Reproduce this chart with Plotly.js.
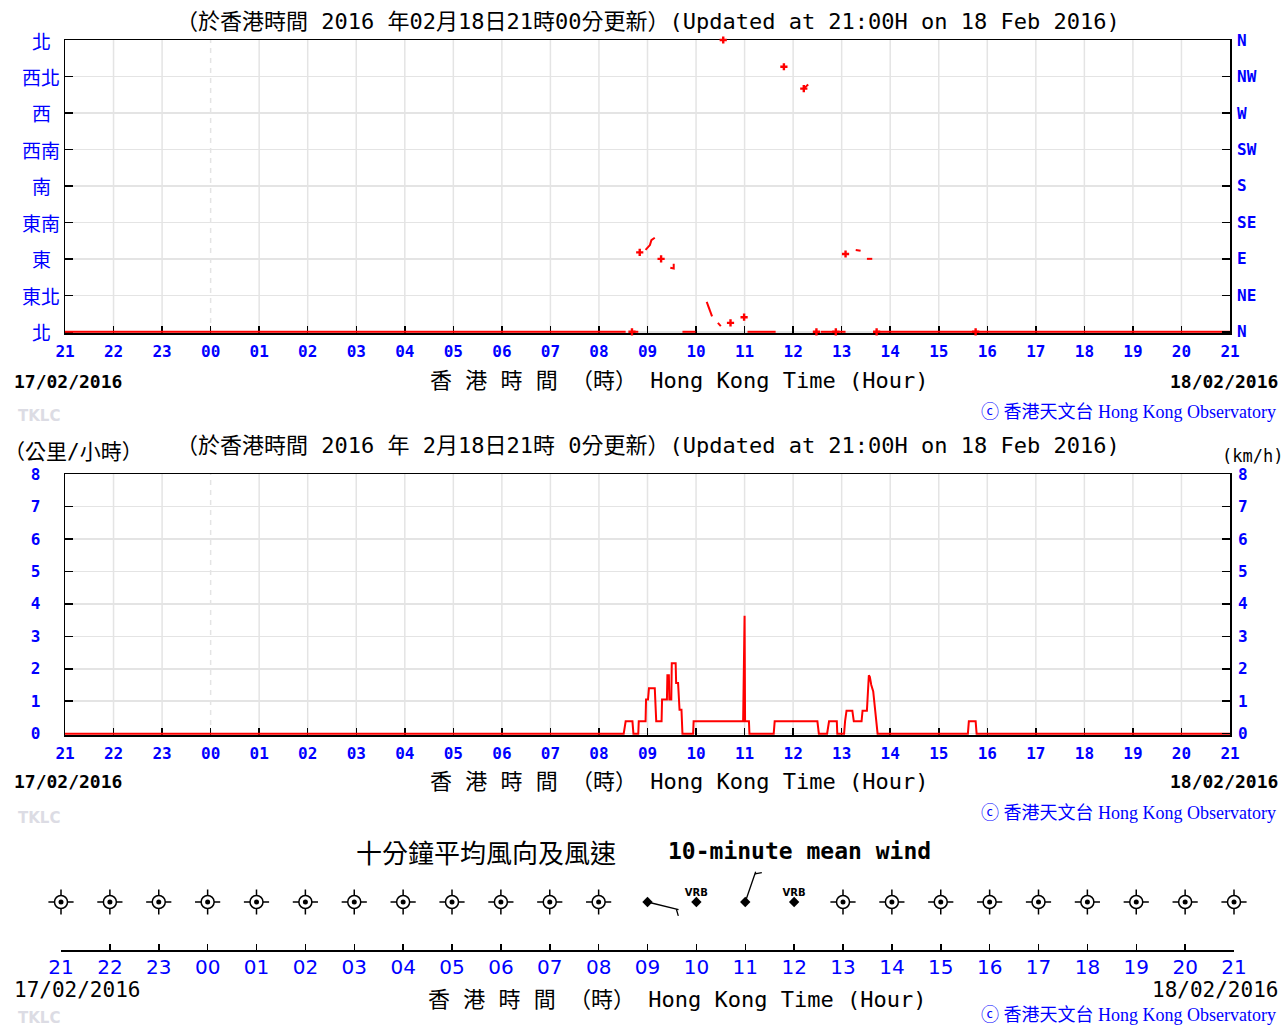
<!DOCTYPE html>
<html><head><meta charset="utf-8">
<script src="https://cdn.plot.ly/plotly-3.0.1.min.js"></script>
<style>body{margin:0;background:#fff}#chart{width:1287px;height:1026px}</style>
</head><body><div id="chart"></div>
<script>
// ---------- data (hours since 21:00 on 17/02/2016) ----------
const hourLabels = ['21','22','23','00','01','02','03','04','05','06','07','08','09','10','11','12','13','14','15','16','17','18','19','20','21'];
const hourVals = hourLabels.map((_, i) => i);
const dirTickVals = [0, 45, 90, 135, 180, 225, 270, 315, 360];
const dirTicksZh = ['北', '東北', '東', '東南', '南', '西南', '西', '西北', '北'];
const dirTicksEn = ['N', 'NE', 'E', 'SE', 'S', 'SW', 'W', 'NW', 'N'];
const speedTickVals = [0, 1, 2, 3, 4, 5, 6, 7, 8];

const dirLineHours = [0, 11.55, null, 11.71, 11.81, null, 11.96, 12.05, 12.08, 12.15, null, 12.47, 12.54, 12.54, null, 12.72, 12.99, null, 13.22, 13.33, null, 13.45, 13.51, null, 14.06, 14.64, null, 15.22, 15.31, null, 15.57, 15.84, null, 15.94, 16.08, null, 16.29, 16.39, null, 16.52, 16.63, null, 16.75, 24];
const dirLineDeg   = [0, 0, null, 0, 0, null, 101, 107, 113, 116, null, 79, 78, 84, null, 0, 0, null, 37, 19, null, 11, 7, null, 0, 0, null, 300, 305, null, 0, 0, null, 0, 0, null, 101, 100, null, 90, 90, null, 0, 0];
const dirPointHours = [11.68, 11.84, 12.28, 13.56, 13.71, 13.99, 14.81, 15.22, 15.48, 15.88, 16.08, 16.72, 18.76];
const dirPointDeg   = [0, 98, 90, 360, 11, 18, 327, 300, 0, 0, 96, 0, 0];

const speedHours = [0, 11.51, 11.55, 11.69, 11.71, 11.81, 11.82, 11.96, 11.97, 12.01, 12.03, 12.15, 12.16, 12.18, 12.29, 12.30, 12.40, 12.41, 12.44, 12.45, 12.49, 12.50, 12.58, 12.59, 12.63, 12.64, 12.66, 12.70, 12.72, 12.94, 12.95, 13.97, 13.98, 13.99, 14.00, 14.01, 14.09, 14.10, 14.60, 14.62, 15.50, 15.53, 15.70, 15.74, 15.90, 15.91, 16.05, 16.07, 16.10, 16.22, 16.25, 16.41, 16.43, 16.52, 16.53, 16.56, 16.58, 16.61, 16.65, 16.69, 16.74, 18.60, 18.62, 18.76, 18.78, 24];
const speedKmh   = [0, 0, 0.38, 0.38, 0, 0, 0.38, 0.38, 1.05, 1.05, 1.4, 1.4, 1.05, 0.38, 0.38, 1.05, 1.05, 1.8, 1.8, 1.05, 1.05, 2.17, 2.17, 1.56, 1.56, 1.05, 0.74, 0.74, 0, 0, 0.38, 0.38, 2.0, 2.0, 3.63, 0.38, 0.38, 0, 0, 0.38, 0.38, 0, 0, 0.38, 0.38, 0, 0, 0.38, 0.71, 0.71, 0.38, 0.38, 0.71, 0.71, 1.07, 1.8, 1.75, 1.5, 1.3, 0.8, 0, 0, 0.38, 0.38, 0, 0];

// 10-minute mean wind at each hour: null = calm, 'VRB' = variable, number = direction (deg)
const meanWindDir = [null, null, null, null, null, null, null, null, null, null, null, null, 104, 'VRB', 19, 'VRB', null, null, null, null, null, null, null, null, null];

// ---------- helpers ----------
const W = 1287, H = 1026;
const px = x => x / W;
const py = y => 1 - y / H;
const BLUE = '#0000ff';
const MONO = 'DejaVu Sans Mono, Noto Sans CJK TC, monospace';
const CJK = 'Noto Sans CJK TC, DejaVu Sans';
function ann(text, x, y, font, xanchor) {
  return {text, x: px(x), y: py(y), xref: 'paper', yref: 'paper', xanchor: xanchor || 'center', yanchor: 'middle', showarrow: false, font};
}

const titleFont = {family: MONO, size: 22, color: '#000'};
const xTitleFont = {family: MONO, size: 22, color: '#000'};
const dateBold = {family: MONO, size: 18, color: '#000', weight: 'bold'};
const tklcFont = {family: 'DejaVu Sans', size: 15, color: '#dcdce4', weight: 'bold'};
const hkoFont = {family: 'Liberation Serif, Noto Sans CJK TC', size: 18, color: BLUE};
const tickBold = {family: MONO, size: 16, color: BLUE, weight: 'bold'};

// ---------- traces ----------
const traces = [];
traces.push({x: dirLineHours, y: dirLineDeg, xaxis: 'x', yaxis: 'y', mode: 'lines', connectgaps: false,
  line: {color: '#ff0000', width: 2}, hoverinfo: 'skip', showlegend: false});
traces.push({x: dirPointHours, y: dirPointDeg, xaxis: 'x', yaxis: 'y', mode: 'markers', cliponaxis: false,
  marker: {symbol: 'cross', size: 6, color: '#ff0000'}, hoverinfo: 'skip', showlegend: false});
traces.push({x: [0], y: [null], xaxis: 'x', yaxis: 'y2', mode: 'markers', hoverinfo: 'skip', showlegend: false});
traces.push({x: speedHours, y: speedKmh, xaxis: 'x2', yaxis: 'y3', mode: 'lines',
  line: {color: '#ff0000', width: 2}, hoverinfo: 'skip', showlegend: false});
traces.push({x: [0], y: [null], xaxis: 'x2', yaxis: 'y4', mode: 'markers', hoverinfo: 'skip', showlegend: false});

const STATION_Y = 48;
const calmX = hourVals.filter((h, i) => meanWindDir[i] === null);
const windX = hourVals.filter((h, i) => meanWindDir[i] !== null);
const vrbX = hourVals.filter((h, i) => meanWindDir[i] === 'VRB');
const mk = (xs, marker) => ({x: xs, y: xs.map(() => STATION_Y), xaxis: 'x3', yaxis: 'y5', mode: 'markers',
  cliponaxis: false, marker, hoverinfo: 'skip', showlegend: false});
traces.push(mk(calmX, {symbol: 'cross-thin-open', size: 18, color: '#000', line: {color: '#000', width: 1.5}}));
traces.push(mk(calmX, {symbol: 'circle', size: 13, color: '#fff', line: {color: '#000', width: 1.5}}));
traces.push(mk(calmX, {symbol: 'circle', size: 5, color: '#000', line: {width: 0}}));
traces.push(mk(windX, {symbol: 'diamond', size: 8, color: '#000', line: {width: 0}}));
traces.push({x: vrbX, y: vrbX.map(() => STATION_Y + 9), xaxis: 'x3', yaxis: 'y5', mode: 'text', cliponaxis: false,
  text: vrbX.map(() => 'VRB'), textfont: {family: 'DejaVu Sans', size: 10, color: '#000', weight: 'bold'},
  hoverinfo: 'skip', showlegend: false});

// ---------- shapes ----------
const gridC = '#e4e4e4';
const shapes = [];
['x', 'x2'].forEach((xr, k) => {
  const yr = k === 0 ? 'y' : 'y3';
  hourVals.slice(1, -1).forEach(h => {
    shapes.push({type: 'line', xref: xr, yref: yr + ' domain', x0: h, x1: h, y0: 0, y1: 1, layer: 'below',
      line: {color: gridC, width: 1.5, dash: h === 3 ? '5px,5px' : 'solid'}});
  });
});
// wind barbs (length in pixels, drawn from each station mark)
const BARB = 32, FEATHER = 7;
meanWindDir.forEach((d, i) => {
  if (typeof d !== 'number') return;
  const r = d * Math.PI / 180;
  const sx = Math.sin(r), sy = Math.cos(r);
  const fx = sx * 0.5 + sy * 0.866, fy = -sx * 0.866 + sy * 0.5;
  const base = {type: 'line', xref: 'x3', yref: 'y5', xsizemode: 'pixel', xanchor: i, layer: 'above', line: {color: '#000', width: 1.3}};
  shapes.push(Object.assign({}, base, {x0: 0, y0: STATION_Y, x1: BARB * sx, y1: STATION_Y + BARB * sy}));
  const bx = BARB * 0.93 * sx, by = BARB * 0.93 * sy;
  shapes.push(Object.assign({}, base, {x0: bx, y0: STATION_Y + by, x1: bx + FEATHER * fx, y1: STATION_Y + by + FEATHER * fy}));
});

// ---------- annotations ----------
const annotations = [];
annotations.push(ann('（於香港時間 2016 年02月18日21時00分更新）(Updated at 21:00H on 18 Feb 2016)', 648, 22, titleFont));
dirTickVals.forEach((v, i) => annotations.push({text: dirTicksZh[i], x: px(41), y: v, xref: 'paper', yref: 'y',
  xanchor: 'center', yanchor: 'middle', showarrow: false, font: {family: CJK, size: 19, color: BLUE}}));
annotations.push(ann('17/02/2016', 12, 381, dateBold, 'left'));
annotations.push(ann('18/02/2016', 1280, 381, dateBold, 'right'));
annotations.push(ann('香 港 時 間 （時） Hong Kong Time (Hour)', 679, 380, xTitleFont));
annotations.push(ann('TKLC', 16, 416, tklcFont, 'left'));
annotations.push(ann('ⓒ 香港天文台 Hong Kong Observatory', 1278, 412, hkoFont, 'right'));

annotations.push(ann('（公里/小時）', 2, 452, {family: MONO, size: 21, color: '#000'}, 'left'));
annotations.push(ann('（於香港時間 2016 年 2月18日21時 0分更新）(Updated at 21:00H on 18 Feb 2016)', 648, 445, titleFont));
annotations.push(ann('(km/h)', 1285, 456, {family: MONO, size: 17, color: '#000'}, 'right'));
annotations.push(ann('17/02/2016', 12, 781, dateBold, 'left'));
annotations.push(ann('18/02/2016', 1280, 781, dateBold, 'right'));
annotations.push(ann('香 港 時 間 （時） Hong Kong Time (Hour)', 679, 781, xTitleFont));
annotations.push(ann('TKLC', 16, 818, tklcFont, 'left'));
annotations.push(ann('ⓒ 香港天文台 Hong Kong Observatory', 1278, 813, hkoFont, 'right'));

annotations.push(ann('十分鐘平均風向及風速', 486, 851, {family: CJK, size: 26, color: '#000'}));
annotations.push(ann('10-minute mean wind', 799, 851, {family: MONO, size: 23, color: '#000', weight: 'bold'}));
annotations.push(ann('17/02/2016', 12, 990, {family: MONO, size: 21, color: '#000'}, 'left'));
annotations.push(ann('18/02/2016', 1280, 990, {family: MONO, size: 21, color: '#000'}, 'right'));
annotations.push(ann('香 港 時 間 （時） Hong Kong Time (Hour)', 677, 999, xTitleFont));
annotations.push(ann('TKLC', 16, 1018, tklcFont, 'left'));
annotations.push(ann('ⓒ 香港天文台 Hong Kong Observatory', 1278, 1015, hkoFont, 'right'));

// ---------- axes ----------
const hourAxis = (domain, anchor) => ({domain, anchor, range: [0, 24], tickmode: 'array', tickvals: hourVals, ticktext: hourLabels,
  showgrid: false, zeroline: false, showline: true, mirror: true, linecolor: '#000', linewidth: 1.5,
  ticks: 'inside', ticklen: 7, tickwidth: 1.5, tickcolor: '#000', tickfont: tickBold, ticklabelstandoff: 3, layer: 'below traces', fixedrange: true});

const layout = {
  width: W, height: H, autosize: false, margin: {l: 0, r: 0, t: 0, b: 0},
  paper_bgcolor: '#fff', plot_bgcolor: 'rgba(0,0,0,0)', showlegend: false,
  xaxis: hourAxis([px(65), px(1230)], 'y'),
  yaxis: {domain: [py(333), py(40)], anchor: 'x', range: [-1.5, 360], tickmode: 'array', tickvals: dirTickVals, showticklabels: false,
    showgrid: true, gridcolor: gridC, gridwidth: 1.5, zeroline: false, showline: true, mirror: true, linecolor: '#000', linewidth: 1.5,
    ticks: 'inside', ticklen: 8, tickwidth: 1.5, tickcolor: '#000', layer: 'below traces', fixedrange: true},
  yaxis2: {overlaying: 'y', side: 'right', anchor: 'x', range: [-1.5, 360], tickmode: 'array', tickvals: dirTickVals, ticktext: dirTicksEn,
    showgrid: false, zeroline: false, ticks: 'inside', ticklen: 8, tickwidth: 1.5, tickcolor: '#000', tickfont: tickBold, ticklabelstandoff: 6, fixedrange: true},
  xaxis2: hourAxis([px(65), px(1230)], 'y3'),
  yaxis3: {domain: [py(735), py(474)], anchor: 'x2', range: [-0.04, 8], tickmode: 'array', tickvals: speedTickVals,
    showgrid: true, gridcolor: gridC, gridwidth: 1.5, zeroline: false, showline: true, mirror: true, linecolor: '#000', linewidth: 1.5,
    ticks: 'inside', ticklen: 8, tickwidth: 1.5, tickcolor: '#000', tickfont: tickBold, ticklabelstandoff: 20, layer: 'below traces', fixedrange: true},
  yaxis4: {overlaying: 'y3', side: 'right', anchor: 'x2', range: [-0.04, 8], tickmode: 'array', tickvals: speedTickVals,
    showgrid: false, zeroline: false, ticks: 'inside', ticklen: 8, tickwidth: 1.5, tickcolor: '#000', tickfont: tickBold, ticklabelstandoff: 7, fixedrange: true},
  xaxis3: {domain: [px(61), px(1234)], anchor: 'y5', range: [0, 24], tickmode: 'array', tickvals: hourVals, ticktext: hourLabels,
    showgrid: false, zeroline: false, showline: true, linecolor: '#000', linewidth: 1.5, ticks: 'inside', ticklen: 6, tickwidth: 1.5, tickcolor: '#000',
    tickfont: {family: 'DejaVu Sans', size: 20, color: BLUE}, ticklabelstandoff: -2, fixedrange: true},
  yaxis5: {domain: [py(950), py(860)], anchor: 'x3', range: [0, 90], visible: false, fixedrange: true},
  shapes, annotations
};

Plotly.newPlot('chart', traces, layout, {staticPlot: true, displayModeBar: false});
</script>
</body></html>
